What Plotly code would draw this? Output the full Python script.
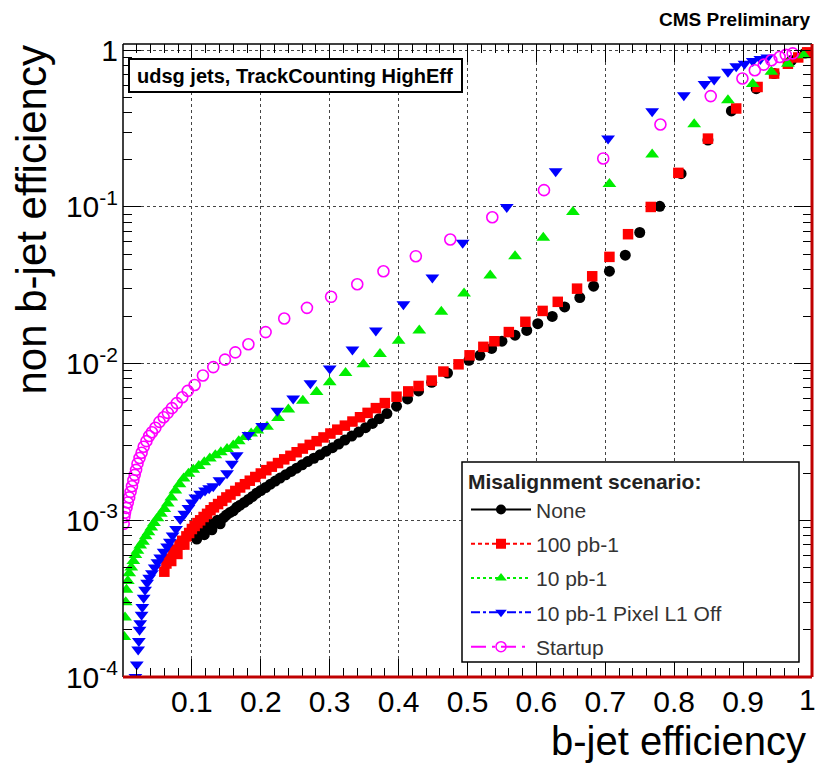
import plotly.graph_objects as go

# ---------------- data ----------------
none_x = [0.100, 0.104, 0.107, 0.111, 0.114, 0.118, 0.121, 0.125, 0.129, 0.133, 0.137, 0.141,
          0.146, 0.150, 0.155, 0.160, 0.165, 0.170, 0.176, 0.182, 0.188, 0.194, 0.200, 0.207,
          0.214, 0.221, 0.228, 0.236, 0.244, 0.252, 0.260, 0.268, 0.277, 0.286, 0.295, 0.304,
          0.313, 0.322, 0.332, 0.342, 0.352, 0.362, 0.372, 0.383, 0.397, 0.413, 0.429, 0.448,
          0.471, 0.502, 0.518, 0.535, 0.550, 0.569, 0.586, 0.602, 0.623, 0.641, 0.663, 0.683,
          0.706, 0.729, 0.750, 0.779, 0.810, 0.849, 0.883, 0.919, 0.945, 0.970, 0.990]
none_y = [8.0e-4, 8.6e-4, 7.6e-4, 8.3e-4, 9.0e-4, 8.1e-4, 8.8e-4, 9.4e-4, 8.7e-4, 9.6e-4, 1.00e-3, 9.5e-4,
          1.04e-3, 1.08e-3, 1.12e-3, 1.15e-3, 1.21e-3, 1.25e-3, 1.30e-3, 1.36e-3, 1.42e-3, 1.49e-3, 1.55e-3, 1.62e-3,
          1.70e-3, 1.78e-3, 1.86e-3, 1.95e-3, 2.05e-3, 2.15e-3, 2.26e-3, 2.37e-3, 2.49e-3, 2.62e-3, 2.76e-3, 2.91e-3,
          3.07e-3, 3.25e-3, 3.45e-3, 3.66e-3, 3.90e-3, 4.15e-3, 4.45e-3, 4.80e-3, 5.35e-3, 5.95e-3, 6.70e-3, 7.60e-3,
          8.70e-3, 0.0105, 0.0113, 0.0125, 0.0139, 0.0152, 0.0163, 0.0180, 0.0200, 0.0230, 0.0264, 0.0312,
          0.0389, 0.0492, 0.0687, 0.101, 0.163, 0.267, 0.41, 0.569, 0.71, 0.86, 0.96]

pb100_x = [0.060, 0.063, 0.066, 0.070, 0.073, 0.076, 0.079, 0.082, 0.086, 0.089, 0.092, 0.096,
           0.100, 0.104, 0.108, 0.112, 0.117, 0.122, 0.127, 0.132, 0.138, 0.144, 0.150, 0.156,
           0.163, 0.170, 0.177, 0.184, 0.192, 0.200, 0.208, 0.216, 0.225, 0.234, 0.243, 0.252,
           0.261, 0.271, 0.281, 0.291, 0.301, 0.311, 0.322, 0.333, 0.344, 0.355, 0.367, 0.380,
           0.397, 0.414, 0.429, 0.448, 0.465, 0.487, 0.503, 0.523, 0.539, 0.560, 0.584, 0.609,
           0.631, 0.659, 0.681, 0.706, 0.733, 0.766, 0.806, 0.849, 0.890, 0.921, 0.945, 0.965,
           0.980, 0.993]
pb100_y = [4.7e-4, 5.3e-4, 5.7e-4, 5.5e-4, 6.2e-4, 6.5e-4, 6.1e-4, 7.0e-4, 7.4e-4, 7.0e-4, 7.9e-4, 8.3e-4,
           8.8e-4, 9.2e-4, 9.6e-4, 1.00e-3, 1.05e-3, 1.10e-3, 1.16e-3, 1.21e-3, 1.27e-3, 1.33e-3, 1.40e-3, 1.46e-3,
           1.54e-3, 1.62e-3, 1.70e-3, 1.79e-3, 1.89e-3, 1.99e-3, 2.09e-3, 2.20e-3, 2.32e-3, 2.45e-3, 2.58e-3, 2.72e-3,
           2.87e-3, 3.03e-3, 3.20e-3, 3.38e-3, 3.58e-3, 3.79e-3, 4.02e-3, 4.27e-3, 4.55e-3, 4.85e-3, 5.20e-3, 5.60e-3,
           6.15e-3, 6.65e-3, 7.20e-3, 7.80e-3, 8.90e-3, 9.90e-3, 0.0113, 0.0128, 0.0139, 0.0159, 0.0185, 0.0217,
           0.0248, 0.0301, 0.0361, 0.048, 0.067, 0.100, 0.165, 0.273, 0.425, 0.583, 0.71, 0.82,
           0.90, 0.97]

pb10_x = [0.002, 0.003, 0.004, 0.005, 0.007, 0.009, 0.012, 0.015, 0.018, 0.021, 0.025, 0.029,
          0.033, 0.037, 0.041, 0.045, 0.050, 0.055, 0.060, 0.065, 0.070, 0.076, 0.082, 0.088,
          0.095, 0.102, 0.110, 0.118, 0.126, 0.134, 0.142, 0.151, 0.160, 0.168, 0.177, 0.186,
          0.195, 0.209, 0.225, 0.240, 0.261, 0.281, 0.300, 0.323, 0.349, 0.373, 0.400, 0.430,
          0.462, 0.495, 0.533, 0.569, 0.610, 0.653, 0.706, 0.768, 0.829, 0.878, 0.914, 0.941,
          0.965, 0.988]
pb10_y = [1.8e-4, 2.4e-4, 3.0e-4, 3.6e-4, 4.1e-4, 4.6e-4, 5.0e-4, 5.5e-4, 6.0e-4, 6.4e-4, 6.9e-4, 7.3e-4,
          7.9e-4, 8.4e-4, 9.0e-4, 9.6e-4, 1.03e-3, 1.10e-3, 1.18e-3, 1.28e-3, 1.40e-3, 1.55e-3, 1.70e-3, 1.85e-3,
          1.98e-3, 2.10e-3, 2.22e-3, 2.35e-3, 2.48e-3, 2.60e-3, 2.72e-3, 2.85e-3, 3.00e-3, 3.20e-3, 3.40e-3, 3.58e-3,
          3.75e-3, 3.95e-3, 4.50e-3, 5.10e-3, 5.80e-3, 6.60e-3, 7.60e-3, 8.70e-3, 9.90e-3, 0.0115, 0.0140, 0.0163,
          0.0214, 0.0280, 0.0365, 0.0485, 0.0637, 0.093, 0.140, 0.216, 0.337, 0.480, 0.610, 0.730,
          0.820, 0.930]

l1off_x = [0.018, 0.020, 0.022, 0.023, 0.024, 0.025, 0.027, 0.028, 0.030, 0.032, 0.035, 0.038,
           0.042, 0.046, 0.050, 0.054, 0.059, 0.064, 0.068, 0.072, 0.077, 0.083, 0.089, 0.095,
           0.100, 0.105, 0.112, 0.119, 0.125, 0.131, 0.140, 0.151, 0.158, 0.165, 0.182, 0.202,
           0.224, 0.247, 0.272, 0.300, 0.333, 0.367, 0.407, 0.449, 0.493, 0.557, 0.628, 0.704,
           0.768, 0.814, 0.844, 0.858, 0.878, 0.890, 0.902, 0.914, 0.925, 0.935]
l1off_y = [1.0e-4, 1.2e-4, 1.5e-4, 1.7e-4, 2.0e-4, 2.2e-4, 2.5e-4, 2.8e-4, 3.2e-4, 3.6e-4, 4.0e-4, 4.3e-4,
           4.6e-4, 5.0e-4, 5.4e-4, 5.8e-4, 6.3e-4, 6.8e-4, 7.3e-4, 8.0e-4, 8.8e-4, 1.02e-3, 1.10e-3, 1.20e-3,
           1.30e-3, 1.40e-3, 1.48e-3, 1.55e-3, 1.60e-3, 1.65e-3, 1.80e-3, 2.00e-3, 2.30e-3, 2.60e-3, 3.50e-3, 4.00e-3,
           5.00e-3, 6.00e-3, 7.50e-3, 9.30e-3, 0.0123, 0.0163, 0.0239, 0.0354, 0.0590, 0.100, 0.169, 0.273,
           0.408, 0.516, 0.610, 0.650, 0.730, 0.790, 0.820, 0.855, 0.880, 0.900]

startup_x = [0.001, 0.002, 0.003, 0.005, 0.007, 0.009, 0.011, 0.013, 0.015, 0.017, 0.019, 0.021,
             0.024, 0.027, 0.030, 0.034, 0.038, 0.042, 0.047, 0.053, 0.059, 0.065, 0.071, 0.078,
             0.086, 0.094, 0.104, 0.116, 0.131, 0.148, 0.163, 0.182, 0.207, 0.234, 0.267, 0.302,
             0.340, 0.378, 0.425, 0.475, 0.536, 0.611, 0.697, 0.780, 0.853, 0.899, 0.917, 0.930,
             0.941, 0.953, 0.962, 0.972]
startup_y = [9.5e-4, 1.05e-3, 1.12e-3, 1.20e-3, 1.30e-3, 1.40e-3, 1.52e-3, 1.65e-3, 1.80e-3, 1.95e-3, 2.10e-3, 2.30e-3,
             2.50e-3, 2.70e-3, 2.95e-3, 3.20e-3, 3.45e-3, 3.65e-3, 3.90e-3, 4.25e-3, 4.55e-3, 4.85e-3, 5.20e-3, 5.60e-3,
             6.10e-3, 6.70e-3, 7.30e-3, 8.40e-3, 9.50e-3, 0.0106, 0.0118, 0.0133, 0.0159, 0.0194, 0.0227, 0.0267,
             0.0321, 0.0389, 0.0485, 0.0620, 0.0860, 0.128, 0.204, 0.336, 0.510, 0.660, 0.745, 0.810,
             0.863, 0.906, 0.935, 0.955]

series_names = ["None", "100 pb-1", "10 pb-1", "10 pb-1 Pixel L1 Off", "Startup"]
x_tick_vals = [0.1, 0.2, 0.3, 0.4, 0.5, 0.6, 0.7, 0.8, 0.9, 1.0]
x_tick_text = ["0.1", "0.2", "0.3", "0.4", "0.5", "0.6", "0.7", "0.8", "0.9", ""]
x_end_label = "1"   # last x tick label, drawn as an annotation so it stays inside the page
y_tick_vals = [1e-4, 1e-3, 1e-2, 1e-1, 1]
y_tick_text = ["10<sup>-4</sup>", "10<sup>-3</sup>", "10<sup>-2</sup>", "10<sup>-1</sup>", "1"]

# ---------------- layout geometry (pixels) ----------------
W, H = 817, 764
L, R, T, B = 123, 812, 44, 677


def px_x(p):
    return (p - L) / (R - L)


def px_y(p):
    return (B - p) / (B - T)


FONT = "Liberation Sans, Arial, Helvetica, sans-serif"

styles = [
    dict(color="#000000", symbol="circle", size=11, dash="solid"),
    dict(color="#ff0000", symbol="square", size=10.5, dash="4px,3px"),
    dict(color="#00ee00", symbol="triangle-up", size=12, dash="dot"),
    dict(color="#0000ff", symbol="triangle-down", size=12, dash="dashdot"),
    dict(color="#ff00ff", symbol="circle-open", size=11, dash="longdashdot"),
]
data = [(none_x, none_y), (pb100_x, pb100_y), (pb10_x, pb10_y), (l1off_x, l1off_y), (startup_x, startup_y)]

fig = go.Figure()
for (xs, ys), st, name in zip(data, styles, series_names):
    marker = dict(color=st["color"], symbol=st["symbol"], size=st["size"])
    if st["symbol"] == "circle-open":
        marker["line"] = dict(color=st["color"], width=1.6)
    else:
        marker["line"] = dict(width=0)
    fig.add_trace(go.Scatter(x=xs, y=ys, mode="markers", marker=marker,
                             showlegend=False, hoverinfo="skip"))

# legend-only entries (line + marker, like the ROOT legend)
for st, name in zip(styles, series_names):
    marker = dict(color=st["color"], symbol=st["symbol"], size=10)
    if st["symbol"] == "circle-open":
        marker["line"] = dict(color=st["color"], width=1.5)
    fig.add_trace(go.Scatter(x=[None], y=[None], mode="lines+markers", name=name,
                             line=dict(color=st["color"], width=2, dash=st["dash"]),
                             marker=marker, legendgroup=name))

axis_common = dict(
    ticks="inside", tickcolor="black", tickwidth=1, mirror="ticks", showline=False,
    showgrid=True, gridcolor="#444444", griddash="dot", gridwidth=1,
    zeroline=False, tickfont=dict(family=FONT, size=30, color="black"),
)

fig.update_xaxes(range=[0, 1], tickvals=x_tick_vals, ticktext=x_tick_text, ticklen=18,
                 minor=dict(dtick=0.02, ticklen=9, ticks="inside", tickcolor="black", showgrid=False),
                 ticklabelstandoff=4, **axis_common)
fig.update_yaxes(type="log", range=[-4, 0.04], tickvals=y_tick_vals, ticktext=y_tick_text, ticklen=18,
                 minor=dict(ticks="inside", ticklen=9, tickcolor="black", showgrid=False,
                            tickvals=[k * 10.0 ** e for e in range(-4, 0) for k in range(2, 10)]),
                 ticklabelstandoff=4, **axis_common)

shapes = [
    # frame: left & top black, right & bottom dark red
    dict(type="line", xref="paper", yref="paper", x0=0, x1=1, y0=1, y1=1,
         line=dict(color="black", width=1.5)),
    dict(type="line", xref="paper", yref="paper", x0=0, x1=0, y0=0, y1=1,
         line=dict(color="black", width=1.5)),
    dict(type="line", xref="paper", yref="paper", x0=1, x1=1, y0=0, y1=1,
         line=dict(color="#c00000", width=3)),
    dict(type="line", xref="paper", yref="paper", x0=0, x1=1, y0=0, y1=0,
         line=dict(color="#c00000", width=3)),
    # header text box
    dict(type="rect", xref="paper", yref="paper", x0=px_x(129), x1=px_x(462), y0=px_y(92), y1=px_y(59),
         line=dict(color="black", width=2), fillcolor="white", layer="above"),
    # legend box
    dict(type="rect", xref="paper", yref="paper", x0=px_x(462), x1=px_x(799), y0=px_y(662), y1=px_y(462),
         line=dict(color="black", width=1.5), fillcolor="white", layer="above"),
]

annotations = [
    dict(text="<b>udsg jets, TrackCounting HighEff</b>", xref="paper", yref="paper",
         x=px_x(295), y=px_y(76), xanchor="center", yanchor="middle", showarrow=False,
         font=dict(family=FONT, size=20, color="black")),
    dict(text="<b>CMS Preliminary</b>", xref="paper", yref="paper",
         x=px_x(812), y=px_y(19), xanchor="right", yanchor="middle", showarrow=False,
         font=dict(family=FONT, size=19, color="black")),
    dict(text="b-jet efficiency", xref="paper", yref="paper",
         x=px_x(808), y=px_y(741), xanchor="right", yanchor="middle", showarrow=False,
         font=dict(family=FONT, size=40, color="black")),
    dict(text="non b-jet efficiency", xref="paper", yref="paper", textangle=-90,
         x=px_x(31), y=px_y(44), xanchor="center", yanchor="top", showarrow=False,
         font=dict(family=FONT, size=42, color="black")),
    dict(text=x_end_label, xref="paper", yref="paper",
         x=px_x(817), y=px_y(699), xanchor="right", yanchor="middle", showarrow=False,
         borderpad=0, font=dict(family=FONT, size=30, color="black")),
]

fig.update_layout(
    width=W, height=H,
    margin=dict(l=L, r=W - R, t=T, b=H - B, pad=0),
    paper_bgcolor="white", plot_bgcolor="white",
    shapes=shapes, annotations=annotations,
    showlegend=True,
    legend=dict(
        x=px_x(466), y=px_y(462), xanchor="left", yanchor="top",
        bgcolor="rgba(0,0,0,0)", borderwidth=0,
        title=dict(text="<b>Misalignment scenario:</b>", font=dict(family=FONT, size=21, color="#222222")),
        font=dict(family=FONT, size=21, color="#333333"),
        itemwidth=60, tracegroupgap=4, traceorder="grouped",
    ),
)

post = (
    "document.documentElement.style.overflow='hidden';"
    "document.body.style.margin='0';document.body.style.overflow='hidden';"
)
fig.write_html("out.html", config={"displayModeBar": False}, post_script=post)
